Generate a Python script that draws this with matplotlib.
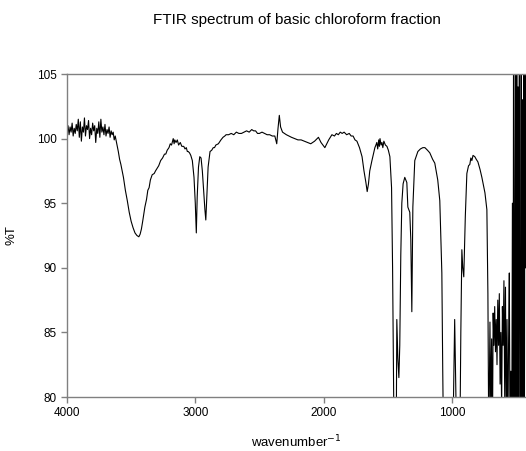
import matplotlib
matplotlib.use("Agg")
import matplotlib.pyplot as plt

plt.rcParams['font.family'] = ['Liberation Sans', 'DejaVu Sans']

title = "FTIR spectrum of basic chloroform fraction"
x_label = "wavenumber$^{-1}$"
y_label = "%T"
x_ticks = [4000, 3000, 2000, 1000]
y_ticks = [80, 85, 90, 95, 100, 105]

# noisy high-wavenumber region
wn_noise = [4000, 3992, 3984, 3976, 3968, 3960, 3952, 3944, 3936, 3928, 3920, 3912,
            3904, 3896, 3888, 3880, 3872, 3864, 3856, 3848, 3840, 3832, 3824, 3816,
            3808, 3800, 3792, 3784, 3776, 3768, 3760, 3752, 3744, 3736, 3728, 3720,
            3712, 3704, 3696, 3688, 3680, 3672, 3664, 3656, 3648, 3640, 3632, 3624]
t_noise = [100.6, 101.0, 100.3, 100.9, 100.5, 101.2, 100.2, 100.8, 100.4, 101.1, 100.6, 101.5,
           100.1, 101.3, 99.8, 100.9, 100.5, 101.6, 100.2, 101.0, 100.7, 101.4, 100.0, 100.8,
           100.3, 101.2, 100.6, 101.0, 99.7, 100.8, 100.4, 101.3, 100.1, 101.5, 100.5, 100.9,
           100.3, 101.1, 100.2, 100.7, 100.4, 100.9, 100.1, 100.6, 100.3, 100.5, 99.9, 100.2]

# main spectrum
wn_main = [3610, 3600, 3590, 3580, 3570, 3560, 3545, 3530, 3515, 3500, 3485, 3470, 3455,
           3440, 3430, 3420, 3410, 3393, 3380, 3370, 3360, 3350, 3336, 3320, 3310, 3297,
           3285, 3270, 3255, 3240, 3230, 3219, 3205, 3195, 3185, 3172, 3165, 3160, 3150,
           3140, 3130, 3117, 3105, 3090, 3080, 3070, 3062, 3055, 3045, 3035, 3023, 3010,
           3000, 2992, 2985, 2975, 2965, 2955, 2945, 2935, 2925, 2918, 2910, 2900, 2885,
           2872, 2860, 2850, 2840, 2820, 2800, 2784, 2770, 2760, 2740, 2720, 2700, 2680,
           2660, 2640, 2620, 2600, 2580, 2560, 2545, 2530, 2515, 2500, 2480, 2460, 2440,
           2420, 2400, 2380, 2365, 2355, 2345, 2335, 2320, 2305, 2290, 2270, 2250, 2225,
           2200, 2175, 2150, 2125, 2100, 2070, 2040, 2020, 1990, 1960, 1935, 1915, 1900,
           1885, 1870, 1855, 1840, 1820, 1800, 1785, 1770, 1755, 1740, 1720, 1700, 1685,
           1670, 1660, 1650, 1640, 1623, 1600, 1592, 1585, 1578, 1570, 1565, 1560, 1552,
           1545, 1538, 1530, 1518, 1506, 1495, 1483, 1470, 1462, 1455, 1450, 1440, 1432,
           1429, 1421, 1413, 1406, 1398, 1390, 1380, 1367, 1351, 1343, 1328, 1320, 1312,
           1304, 1289, 1265, 1245, 1226, 1210, 1190, 1172, 1150, 1133, 1110, 1094, 1078,
           1071, 1060, 1030, 1000, 993, 978, 962, 950, 938, 930, 922, 915, 907, 895, 883,
           870, 860, 852, 844, 835, 821, 810, 797, 780, 766, 742, 727, 719]
t_main = [99.5, 99.0, 98.4, 98.0, 97.5, 97.0, 96.0, 95.2, 94.3, 93.6, 93.1, 92.7, 92.5,
          92.4, 92.6, 93.0, 93.6, 94.7, 95.3, 96.0, 96.2, 96.8, 97.2, 97.3, 97.5, 97.7,
          97.9, 98.3, 98.5, 98.8, 98.8, 99.1, 99.3, 99.6, 99.5, 100.0, 99.6, 99.9, 99.7,
          99.9, 99.5, 99.7, 99.4, 99.4, 99.2, 99.3, 99.0, 99.0, 98.9, 98.7, 98.3, 97.0,
          95.0, 92.7, 95.5, 97.8, 98.6, 98.5, 97.5, 96.0, 94.5, 93.7, 95.5, 97.8, 99.0,
          99.1, 99.3, 99.3, 99.5, 99.6, 99.9, 100.1, 100.2, 100.3, 100.3, 100.4, 100.3, 100.5,
          100.4, 100.4, 100.5, 100.6, 100.5, 100.7, 100.6, 100.6, 100.4, 100.4, 100.5, 100.4, 100.3,
          100.3, 100.2, 100.2, 99.6, 100.8, 101.8, 100.9, 100.5, 100.4, 100.3, 100.2, 100.1, 100.0,
          99.9, 99.9, 99.8, 99.7, 99.6, 99.8, 100.1, 99.7, 99.3, 99.9, 100.3, 100.2, 100.4,
          100.3, 100.5, 100.4, 100.5, 100.3, 100.4, 100.2, 100.2, 99.9, 99.8, 99.3, 98.6, 97.5,
          96.6, 95.9, 96.5, 97.5, 98.3, 99.3, 99.5, 99.7, 99.2, 99.9, 99.4, 100.0, 99.5,
          99.7, 99.3, 99.8, 99.5, 99.4, 99.1, 98.6, 96.2, 90.0, 82.0, 76.0, 75.0, 80.0,
          86.0, 83.0, 81.5, 84.0, 91.0, 95.0, 96.5, 97.0, 96.6, 94.7, 94.3, 92.2, 86.6,
          94.7, 98.3, 99.0, 99.2, 99.3, 99.3, 99.1, 98.9, 98.4, 98.1, 96.8, 95.2, 89.6,
          82.0, 72.0, 70.0, 72.0, 76.0, 86.0, 76.0, 72.0, 76.0, 85.0, 91.4, 90.0, 89.3, 94.0, 97.3,
          97.9, 98.0, 98.5, 98.3, 98.7, 98.6, 98.4, 98.2, 97.6, 97.0, 95.8, 94.5, 88.0]

# noisy low-wavenumber region
wn_low = [712, 703, 697, 690, 684, 678, 672, 666, 660, 654, 648, 642, 636, 630, 624,
          618, 612, 606, 600, 594, 588, 582, 576, 570, 564, 558, 552, 546, 540, 534,
          528, 523, 519, 514, 509, 504, 499, 494, 489, 484, 479, 474, 469, 464, 459,
          454, 449, 444, 439, 434, 429, 424]
t_low = [76.0, 85.8, 79.0, 84.5, 76.0, 86.5, 84.0, 87.0, 83.5, 86.0, 82.5, 87.5, 84.0, 88.0, 81.0,
         85.0, 79.0, 87.0, 84.0, 89.0, 80.0, 88.5, 78.0, 86.0, 76.0, 84.0, 89.6, 75.0, 82.0, 72.0,
         95.0, 70.0, 110.0, 92.0, 65.0, 112.0, 75.0, 108.0, 60.0, 104.0, 70.0, 115.0, 86.7, 62.0, 110.0,
         72.0, 103.0, 66.0, 112.0, 80.0, 114.0, 90.0]

wn = wn_noise + wn_main + wn_low
t = t_noise + t_main + t_low

fig = plt.figure(figsize=(5.26, 4.51), dpi=100)
ax = fig.add_axes([67 / 526, 1 - 397 / 451, 1 - 67 / 526, (397 - 74) / 451])
ax.plot(wn, t, color='black', lw=0.8)
ax.set_xlim(4000, 422)
ax.set_ylim(80, 105)
ax.set_xticks(x_ticks)
ax.set_yticks(y_ticks)
ax.tick_params(direction='out', length=4, width=1, color='#808080', labelsize=8.5,
               labelcolor='black')
for side in ['left', 'bottom', 'top']:
    ax.spines[side].set_color('#808080')
    ax.spines[side].set_linewidth(1.0)
ax.spines['right'].set_visible(False)
ax.set_xlabel(x_label, fontsize=9.5, labelpad=10)
ax.set_ylabel(y_label, fontsize=9.5, labelpad=14)
fig.text(0.565, 0.955, title, ha='center', va='center', fontsize=11)
fig.savefig('out.png', dpi=100)
